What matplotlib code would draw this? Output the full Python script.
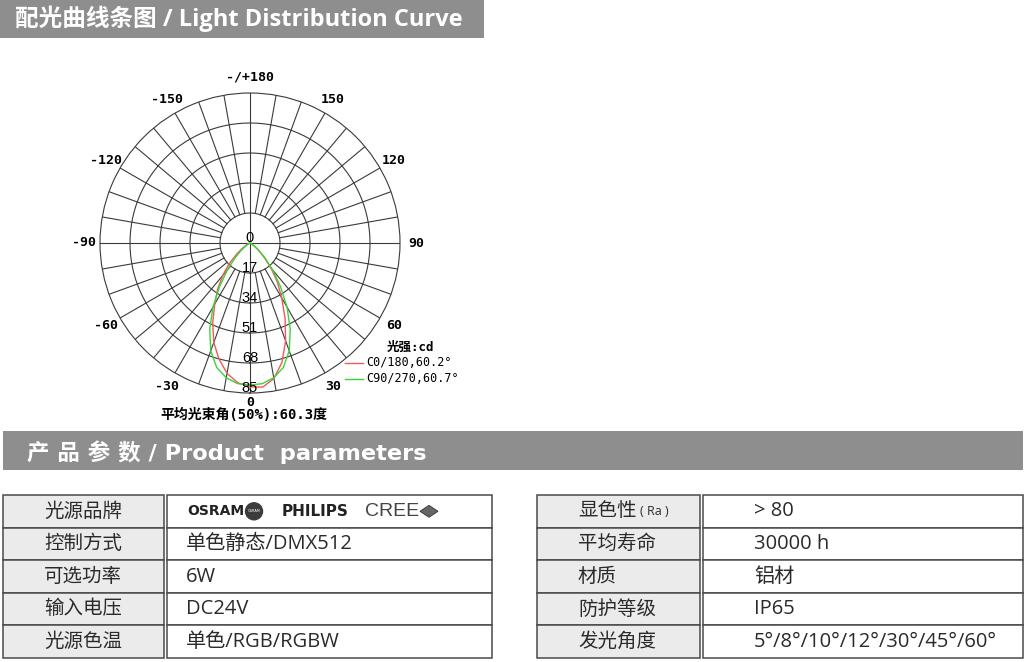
import matplotlib.pyplot as plt
import numpy as np
from matplotlib.patches import Rectangle, Circle, Polygon

plt.rcParams["font.family"] = ["DejaVu Sans", "Noto Sans CJK SC"]

# light distribution data (gamma angle in degrees, intensity in cd)
gamma = [-90, -85, -80, -75, -70, -65, -60, -55, -50, -45, -40, -35, -30, -25, -20,
         -15, -10, -5, 0, 5, 10, 15, 20, 25, 30, 35, 40, 45, 50, 55, 60, 65, 70,
         75, 80, 85, 90]
c0_180 = [0, 0, 0, 0, 0.3, 1.0, 2.5, 5.5, 10, 17, 24, 32, 40, 50, 60,
          68, 75, 79.5, 81.5, 82, 78, 70, 59, 47, 36, 27, 18.5, 11, 6, 3, 1.3, 0.5, 0.1,
          0, 0, 0, 0]
c90_270 = [0, 0, 0, 0, 0, 0.4, 1.2, 3, 6.5, 12, 20, 30, 42, 54, 65,
           73, 77.5, 80, 80.5, 80, 77.5, 73, 65, 54, 42, 30, 20, 12, 6.5, 3, 1.2, 0.4, 0,
           0, 0, 0, 0]
r_max = 85
r_rings = [17, 34, 51, 68, 85]
angle_ticks = [0, 30, 60, 90, 120, 150, 180, -150, -120, -90, -60, -30]
angle_labels = ["0", "30", "60", "90", "120", "150", "-/+180", "-150", "-120", "-90", "-60", "-30"]
legend_names = ["C0/180,60.2°", "C90/270,60.7°"]
beam_text = "平均光束角(50%):60.3度"

# product parameter tables
left_labels = ["光源品牌", "控制方式", "可选功率", "输入电压", "光源色温"]
left_values = ["", "单色静态/DMX512", "6W", "DC24V", "单色/RGB/RGBW"]
right_labels = ["显色性", "平均寿命", "材质", "防护等级", "发光角度"]
right_values = ["> 80", "30000 h", "铝材", "IP65", "5°/8°/10°/12°/30°/45°/60°"]

W, H = 1026, 662
fig = plt.figure(figsize=(W / 100, H / 100), dpi=100)
fig.patch.set_facecolor("white")

bg = fig.add_axes([0, 0, 1, 1])
bg.set_xlim(0, W)
bg.set_ylim(H, 0)
bg.axis("off")

header_gray = "#8e8e8e"
mono = "DejaVu Sans Mono"
cjk = "Noto Sans CJK SC"

# section headers
bg.add_patch(Rectangle((0, 0), 484, 38, color=header_gray, lw=0))
bg.text(15, 19, "配光曲线条图 / Light Distribution Curve", color="white", fontsize=17,
        fontweight="bold", family=["Open Sans", cjk], va="center", ha="left")
bg.add_patch(Rectangle((3, 431), 1020, 39, color=header_gray, lw=0))
bg.text(27, 452, "产 品 参 数 / Product  parameters", color="white", fontsize=16.2,
        fontweight="bold", family=["DejaVu Sans", cjk], va="center", ha="left")

# polar chart
cx, cy, rad = 250, 243, 150
ax = fig.add_axes([(cx - rad) / W, (H - cy - rad) / H, 2 * rad / W, 2 * rad / H],
                  projection="polar")
ax.set_theta_zero_location("S")
ax.set_ylim(0, r_max)
ax.set_xticks([])
ax.set_yticks([])
ax.grid(False)
ax.patch.set_alpha(0)
ax.spines["polar"].set_color("#3a3a3a")
ax.spines["polar"].set_linewidth(0.8)

grid_c = "#3a3a3a"
tt = np.linspace(0, 2 * np.pi, 361)
for rr in r_rings[:-1]:
    ax.plot(tt, np.full_like(tt, rr), color=grid_c, lw=0.8)
for a in range(0, 360, 10):
    start = 0 if a % 90 == 0 else r_rings[0]
    ax.plot([np.radians(a)] * 2, [start, r_max], color=grid_c, lw=0.8)

th = np.radians(gamma)
ax.plot(th, c0_180, color="#f05a5a", lw=1.0, zorder=3)
ax.plot(th, c90_270, color="#3ad43a", lw=1.0, zorder=3)

for a, lab in zip(angle_ticks, angle_labels):
    rr = 90.5 if a == 0 else 94
    ax.text(np.radians(a), rr, lab, ha="center", va="center", fontsize=9.5,
            family=mono, fontweight="bold", clip_on=False)
for rr in r_rings:
    ax.text(0, rr - 3, str(rr), ha="center", va="center", fontsize=10.5,
            family="Liberation Sans", clip_on=False, zorder=4)
ax.text(np.pi, 3, "0", ha="center", va="center", fontsize=10.5,
        family="Liberation Sans", zorder=4)

# legend
bg.text(387, 347, "光强:cd", fontsize=9, fontweight="bold", family=[mono, cjk],
        va="center", ha="left")
for i, (name, col) in enumerate(zip(legend_names, ["#f05a5a", "#3ad43a"])):
    y = 363 + 16 * i
    bg.plot([345, 363], [y, y], color=col, lw=1.0)
    bg.text(366, y - 1, name, fontsize=8.5, family=mono, va="center", ha="left")

bg.text(160, 415, beam_text, fontsize=10, fontweight="bold", family=[mono, cjk],
        va="center", ha="left")

# tables
top, row_h = 495, 32.6
line_c = "#4a4a4a"
label_bg = "#ebebeb"
text_c = "#2a2a2a"


def draw_table(x0, x_split, x1, labels, values, label_x, label_ha, value_x):
    n = len(labels)
    for i in range(n):
        y = top + i * row_h
        bg.add_patch(Rectangle((x0, y), x_split - x0, row_h, facecolor=label_bg,
                               edgecolor=line_c, lw=1.1))
        bg.add_patch(Rectangle((x_split + 3, y), x1 - x_split - 3, row_h,
                               facecolor="white", edgecolor=line_c, lw=1.1))
        yc = y + row_h / 2
        bg.text(label_x, yc, labels[i], fontsize=14, family=["Open Sans", cjk],
                color=text_c, ha=label_ha, va="center")
        if values[i]:
            bg.text(value_x, yc, values[i], fontsize=14.5, family=["Open Sans", cjk],
                    color=text_c, ha="left", va="center")


draw_table(3, 164, 492, left_labels, left_values, 83, "center", 186)
draw_table(537, 700, 1023, right_labels, right_values, 578, "left", 754)
bg.text(640, top + row_h / 2, "( Ra )", fontsize=9, family="Open Sans",
        color=text_c, ha="left", va="center")

# brand logos in first row
yl = top + row_h / 2
bg.text(187, yl, "OSRAM", fontsize=10, fontweight="bold", family="DejaVu Sans",
        color="#222222", ha="left", va="center")
bg.add_patch(Circle((254, yl), 8.5, color="#3c3c3c"))
bg.text(254, yl, "OSRAM", fontsize=2.5, color="white", ha="center", va="center")
bg.text(282, yl, "PHILIPS", fontsize=11, fontweight="bold", family="DejaVu Sans",
        color="#222222", ha="left", va="center")
bg.text(365, yl, "CREE", fontsize=14, family="Liberation Sans", color="#444444",
        ha="left", va="center")
bg.add_patch(Polygon([[420, yl], [429, yl - 6], [438, yl], [429, yl + 6]],
                     closed=True, facecolor="#666666", edgecolor="#333333", lw=0.6))

fig.savefig("out.png", dpi=100)
